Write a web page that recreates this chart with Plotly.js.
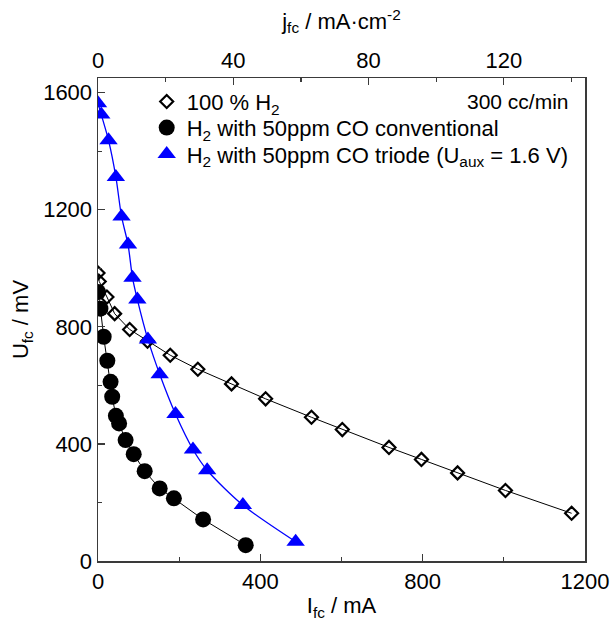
<!DOCTYPE html>
<html>
<head>
<meta charset="utf-8">
<script src="https://cdn.plot.ly/plotly-3.0.1.min.js"></script>
<style>html,body{margin:0;padding:0;background:#fff;}#chart{width:611px;height:621px;}</style>
</head>
<body>
<div id="chart"></div>
<script>
// 100 % H2
var h2_I = [0, 3, 22, 41, 78, 122, 178, 246, 329, 413, 526, 602, 717, 797, 886, 1004, 1167];
var h2_U = [984, 955, 902, 845, 791, 751, 703, 655, 605, 554, 491, 449, 388, 347, 301, 241, 163];
// H2 with 50ppm CO conventional
var conv_I = [0, 6, 14, 23, 31, 35, 44, 52, 68, 88, 115, 152, 187, 259, 364];
var conv_U = [919, 862, 766, 684, 612, 561, 496, 470, 413, 365, 307, 248, 214, 142, 54];
// H2 with 50ppm CO triode (Uaux = 1.6 V)
var tri_I = [0, 8, 26, 44, 58, 74, 85, 97, 123, 152, 191, 234, 269, 357, 487];
var tri_U = [1564, 1525, 1437, 1312, 1177, 1081, 968, 893, 757, 638, 502, 381, 310, 191, 66];
// electrode area (cm2) linking I (mA) and j (mA/cm2)
var area = 1000 / 120;

var names = ["100 % H<sub>2</sub>", "H<sub>2</sub> with 50ppm CO conventional", "H<sub>2</sub> with 50ppm CO triode (U<sub>aux</sub> = 1.6 V)"];
var xTicks = [0, 400, 800, 1200];
var yTicks = [0, 400, 800, 1200, 1600];
var jTicks = [0, 40, 80, 120];

var FONT = "Liberation Sans, Arial, sans-serif";
var axisCol = "#3a3a3a";

var traces = [
  {x: h2_I, y: h2_U, mode: "lines", line: {color: "#000", width: 1}, showlegend: false, hoverinfo: "skip"},
  {x: conv_I, y: conv_U, mode: "lines", line: {color: "#000", width: 1}, showlegend: false, hoverinfo: "skip"},
  {x: tri_I, y: tri_U, mode: "lines", line: {color: "#0000ff", width: 1.3, shape: "spline", smoothing: 0.8}, showlegend: false, hoverinfo: "skip"},
  {x: h2_I, y: h2_U, mode: "markers", name: names[0], legend: "legend", marker: {symbol: "diamond-open", size: 10, color: "#000", line: {width: 2.2, color: "#000"}}},
  {x: conv_I, y: conv_U, mode: "markers", name: names[1], legend: "legend2", marker: {symbol: "circle", size: 16, color: "#000"}},
  {x: tri_I, y: tri_U, mode: "markers", name: names[2], legend: "legend3", marker: {symbol: "triangle-up", size: 16, color: "#0000ff"}},
  {x: h2_I.map(function (v) { return v / area; }), y: h2_U, xaxis: "x2", mode: "markers", marker: {opacity: 0}, showlegend: false, hoverinfo: "skip"}
];

function leg(yc) {
  return {x: 0.1, y: yc, xanchor: "left", yanchor: "middle", bgcolor: "rgba(0,0,0,0)", font: {size: 22}};
}

var layout = {
  width: 611, height: 621,
  margin: {l: 98, r: 26, t: 78, b: 60},
  paper_bgcolor: "#fff", plot_bgcolor: "#fff",
  font: {family: FONT, size: 22, color: "#000"},
  showlegend: true,
  legend: leg(0.951),
  legend2: leg(0.897),
  legend3: leg(0.842),
  xaxis: {
    range: [0, 1200], tickvals: xTicks, ticks: "inside", ticklen: 7, tickcolor: axisCol, tickwidth: 1.2,
    minor: {dtick: 200, ticks: "inside", ticklen: 4, tickcolor: axisCol, tickwidth: 1.2},
    showline: true, linecolor: axisCol, linewidth: 1.5, mirror: false, showgrid: false, zeroline: false,
    title: {text: "I<sub>fc</sub> / mA", font: {size: 22}, standoff: 6}
  },
  xaxis2: {
    overlaying: "x", side: "top", anchor: "y", range: [0, 144], tickvals: jTicks, ticks: "inside", ticklen: 7, tickcolor: axisCol, tickwidth: 1.2,
    minor: {dtick: 20, ticks: "inside", ticklen: 4, tickcolor: axisCol, tickwidth: 1.2},
    showline: true, linecolor: axisCol, linewidth: 1.5, showgrid: false, zeroline: false,
    title: {text: "j<sub>fc</sub> / mA·cm<sup>-2</sup>", font: {size: 22}, standoff: 12}
  },
  yaxis: {
    range: [0, 1650], tickvals: yTicks, ticks: "inside", ticklen: 7, tickcolor: axisCol, tickwidth: 1.2,
    minor: {dtick: 200, ticks: "inside", ticklen: 4, tickcolor: axisCol, tickwidth: 1.2},
    showline: true, linecolor: axisCol, linewidth: 1.5, mirror: true, showgrid: false, zeroline: false,
    title: {text: "U<sub>fc</sub> / mV", font: {size: 22}, standoff: 8}
  },
  annotations: [
    {text: "300 cc/min", xref: "paper", yref: "paper", x: 0.971, y: 0.951, xanchor: "right", yanchor: "middle", showarrow: false, font: {size: 21}}
  ]
};

Plotly.newPlot("chart", traces, layout, {displayModeBar: false, staticPlot: true});
</script>
</body>
</html>
